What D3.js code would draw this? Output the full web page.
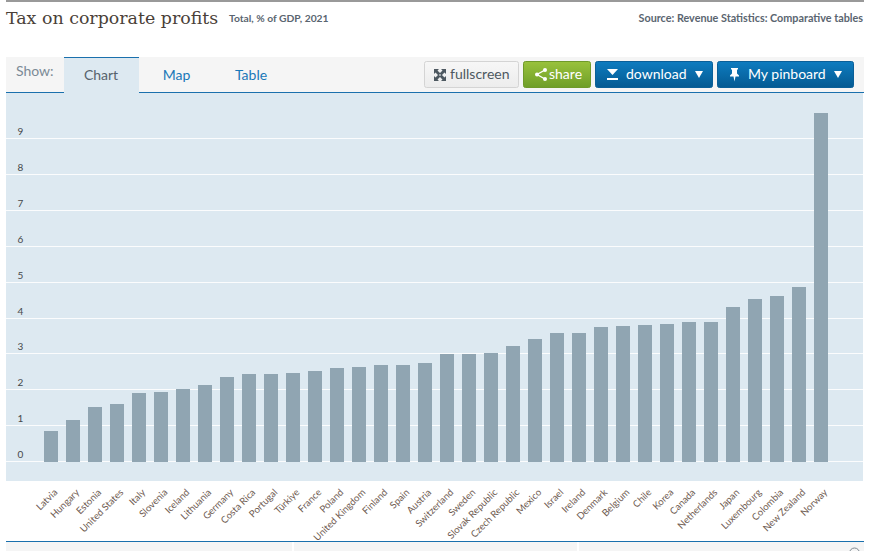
<!DOCTYPE html>
<html>
<head>
<meta charset="utf-8">
<script src="https://cdn.jsdelivr.net/npm/d3@7/dist/d3.min.js"></script>
<style>
html, body { margin: 0; padding: 0; background: #fff; overflow: hidden; }
text { font-family: "Lato", "Noto Sans", sans-serif; }
</style>
</head>
<body>
<div id="my_dataviz"></div>
<script>
var countries = ["Latvia", "Hungary", "Estonia", "United States", "Italy", "Slovenia", "Iceland", "Lithuania", "Germany", "Costa Rica", "Portugal", "Türkiye", "France", "Poland", "United Kingdom", "Finland", "Spain", "Austria", "Switzerland", "Sweden", "Slovak Republic", "Czech Republic", "Mexico", "Israel", "Ireland", "Denmark", "Belgium", "Chile", "Korea", "Canada", "Netherlands", "Japan", "Luxembourg", "Colombia", "New Zealand", "Norway"];
var values = [0.84, 1.14, 1.51, 1.59, 1.90, 1.92, 2.01, 2.12, 2.34, 2.43, 2.43, 2.45, 2.51, 2.59, 2.62, 2.68, 2.68, 2.73, 2.98, 2.98, 3.01, 3.21, 3.40, 3.57, 3.57, 3.74, 3.76, 3.79, 3.82, 3.88, 3.88, 4.29, 4.52, 4.60, 4.85, 9.70];
var yTicks = [0, 1, 2, 3, 4, 5, 6, 7, 8, 9];
var tabs = ["Chart", "Map", "Table"];

var svg = d3.select("#my_dataviz")
  .append("svg")
  .attr("width", 876)
  .attr("height", 551)
  .style("display", "block");

var defs = svg.append("defs");
function add_gradient(id, top, bottom) {
  var g = defs.append("linearGradient").attr("id", id)
    .attr("x1", 0).attr("y1", 0).attr("x2", 0).attr("y2", 1);
  g.append("stop").attr("offset", "0%").attr("stop-color", top);
  g.append("stop").attr("offset", "100%").attr("stop-color", bottom);
}
add_gradient("grad_white", "#f7f7f7", "#ececec");
add_gradient("grad_green", "#99c23c", "#6f9e28");
add_gradient("grad_blue", "#0e7cc0", "#045a92");

// header
svg.append("rect").attr("x", 6).attr("y", 0).attr("width", 858).attr("height", 2).attr("fill", "#999");
svg.append("text").attr("x", 6).attr("y", 24)
  .style("font-family", "'DejaVu Serif', serif").style("font-size", "17.4px").attr("fill", "#4a3f38")
  .text("Tax on corporate profits");
svg.append("text").attr("x", 229).attr("y", 22)
  .style("font-size", "10.3px").style("font-weight", "bold").attr("fill", "#5a6570")
  .text("Total, % of GDP, 2021");
svg.append("text").attr("x", 863).attr("y", 22).attr("text-anchor", "end")
  .style("font-size", "10.8px").style("font-weight", "bold").attr("fill", "#5a6570")
  .text("Source: Revenue Statistics: Comparative tables");

// tab bar
svg.append("rect").attr("x", 6).attr("y", 57).attr("width", 858).attr("height", 36).attr("fill", "#f5f5f5");
svg.append("rect").attr("x", 6).attr("y", 92).attr("width", 858).attr("height", 1).attr("fill", "#1a70ad");
svg.append("text").attr("x", 16).attr("y", 76).style("font-size", "14px").attr("fill", "#7b8a96").text("Show:");
svg.append("rect").attr("x", 64).attr("y", 57).attr("width", 75).attr("height", 37).attr("fill", "#dde9f1");
svg.append("rect").attr("x", 64).attr("y", 57).attr("width", 75).attr("height", 1).attr("fill", "#1a70ad");

var tab_x = d3.scalePoint().domain(tabs).range([101, 251]);
svg.selectAll(".tab").data(tabs).enter().append("text")
  .attr("class", "tab")
  .attr("x", function (d) { return tab_x(d) - (d == "Map" ? -0.5 : 0); })
  .attr("y", 80)
  .attr("text-anchor", "middle")
  .style("font-size", "14px")
  .attr("fill", function (d) { return d == "Chart" ? "#56626c" : "#1a78b8"; })
  .text(function (d) { return d; });

// buttons
function add_button(x, w, fill, stroke) {
  svg.append("rect").attr("x", x + 0.5).attr("y", 61.5).attr("width", w - 1).attr("height", 26).attr("rx", 2)
    .attr("fill", "url(#" + fill + ")").attr("stroke", stroke);
}
function add_label(x, label, color) {
  svg.append("text").attr("x", x).attr("y", 79).style("font-size", "14px").attr("fill", color).text(label);
}
add_button(424, 95, "grad_white", "#d4d4d4");
add_button(523, 68, "grad_green", "#6f9a2a");
add_button(595, 118, "grad_blue", "#0a5f98");
add_button(717, 137, "grad_blue", "#0a5f98");
add_label(450, "fullscreen", "#4d5860");
add_label(549, "share", "#fff");
add_label(626, "download", "#fff");
add_label(748, "My pinboard", "#fff");

// fullscreen icon, four small corner arrows
[[434, 69, 1, 1], [446, 69, -1, 1], [434, 81, 1, -1], [446, 81, -1, -1]].forEach(function (c) {
  svg.append("path")
    .attr("d", "M" + c[0] + "," + c[1] + "h" + 5 * c[2] + "l" + -1.5 * c[2] + "," + 1.5 * c[3] + "l" + 3 * c[2] + "," + 3 * c[3] + "l" + -2 * c[2] + "," + 2 * c[3] + "l" + -3 * c[2] + "," + -3 * c[3] + "l" + -1.5 * c[2] + "," + 1.5 * c[3] + "z")
    .attr("fill", "#4d5860");
});

// share icon
svg.append("path").attr("d", "M545,70 L537,74.5 L545,79").attr("fill", "none").attr("stroke", "#fff").attr("stroke-width", 1.4);
[[545, 70], [537, 74.5], [545, 79]].forEach(function (c) {
  svg.append("circle").attr("cx", c[0]).attr("cy", c[1]).attr("r", 2).attr("fill", "#fff");
});

// download icon
svg.append("path").attr("d", "M607,69 h11 l-5.5,6 z").attr("fill", "#fff");
svg.append("rect").attr("x", 607).attr("y", 78).attr("width", 11).attr("height", 2).attr("fill", "#fff");

// pin icon
svg.append("path").attr("d", "M731,68 h7 v1.5 h-1 v4 l2,2 v1 h-3.5 l-1,5 l-1,-5 h-3.5 v-1 l2,-2 v-4 h-1 z").attr("fill", "#fff");

// dropdown arrows
[[695, 71], [834, 71]].forEach(function (c) {
  svg.append("path").attr("d", "M" + c[0] + "," + c[1] + "h8l-4,7z").attr("fill", "#fff");
});

// chart panel
svg.append("rect").attr("x", 6).attr("y", 93).attr("width", 857).attr("height", 388).attr("fill", "#dde9f1");

var x = d3.scaleBand()
  .domain(countries)
  .range([40, 832])
  .paddingInner(8 / 22)
  .paddingOuter(4 / 22);

var y = d3.scaleLinear()
  .domain([0, 10])
  .rangeRound([461, 102.3]);

// gridlines and y labels
var y_axis = svg.append("g")
  .attr("transform", "translate(6,0)")
  .call(d3.axisRight(y).tickValues(yTicks).tickSize(857).tickFormat(d3.format("d")));
y_axis.select(".domain").remove();
y_axis.selectAll("line").attr("stroke", "#fbfcfd").attr("stroke-width", 1);
y_axis.selectAll("text")
  .attr("x", 14.5)
  .attr("dy", "-3.5")
  .attr("text-anchor", "middle")
  .attr("fill", "#46484a")
  .style("font-size", "10px");

svg.append("g")
  .selectAll("rect")
  .data(countries)
  .enter()
  .append("rect")
  .attr("x", function (d) { return x(d); })
  .attr("y", function (d, i) { return y(values[i]); })
  .attr("width", x.bandwidth())
  .attr("height", function (d, i) { return y(0) - y(values[i]) + 1; })
  .style("fill", "#90a5b2");

// country labels
svg.append("g")
  .selectAll("text")
  .data(countries)
  .enter()
  .append("text")
  .attr("transform", function (d) {
    return "translate(" + (x(d) + x.bandwidth() / 2 + 7) + ",493) rotate(-45)";
  })
  .attr("text-anchor", "end")
  .style("font-size", "9.6px")
  .attr("fill", "#6e5a50")
  .text(function (d) { return d; });

// footer strip
svg.append("rect").attr("x", 6).attr("y", 541).attr("width", 858).attr("height", 1).attr("fill", "#1a70ad");
svg.append("rect").attr("x", 6).attr("y", 542).attr("width", 858).attr("height", 9).attr("fill", "#f5f5f5");
svg.append("rect").attr("x", 292).attr("y", 542).attr("width", 2).attr("height", 9).attr("fill", "#fff");
svg.append("rect").attr("x", 577).attr("y", 542).attr("width", 2).attr("height", 9).attr("fill", "#fff");
svg.append("circle").attr("cx", 854.5).attr("cy", 553).attr("r", 5).attr("fill", "none").attr("stroke", "#7f8a92");
</script>
</body>
</html>
